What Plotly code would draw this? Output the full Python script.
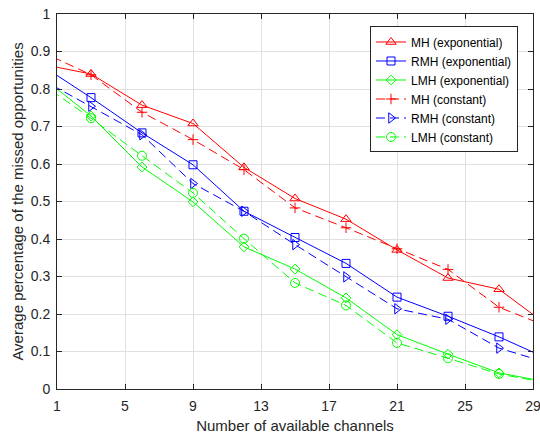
import plotly.graph_objects as go

# x positions of data (axis shows 1..29, data extends slightly beyond and is clipped)
channels = [0, 3, 6, 9, 12, 15, 18, 21, 24, 27, 30]

mh_exp = [0.867, 0.840, 0.757, 0.708, 0.591, 0.508, 0.453, 0.371, 0.296, 0.266, 0.165]
rmh_exp = [0.866, 0.777, 0.683, 0.598, 0.474, 0.404, 0.335, 0.245, 0.194, 0.139, 0.078]
lmh_exp = [0.836, 0.728, 0.592, 0.499, 0.379, 0.320, 0.243, 0.145, 0.093, 0.043, 0.017]
mh_const = [0.901, 0.838, 0.738, 0.665, 0.585, 0.483, 0.430, 0.374, 0.319, 0.218, 0.164]
rmh_const = [0.828, 0.754, 0.678, 0.548, 0.474, 0.385, 0.299, 0.214, 0.186, 0.109, 0.068]
lmh_const = [0.817, 0.722, 0.622, 0.523, 0.401, 0.283, 0.223, 0.123, 0.082, 0.040, 0.015]

series_names = ["MH (exponential)", "RMH (exponential)", "LMH (exponential)",
                "MH (constant)", "RMH (constant)", "LMH (constant)"]
series_values = [mh_exp, rmh_exp, lmh_exp, mh_const, rmh_const, lmh_const]
colors = ["#ff0000", "#0000ff", "#00ff00", "#ff0000", "#0000ff", "#00ff00"]
symbols = ["triangle-up-open", "square-open", "diamond-open",
           "cross-thin-open", "triangle-right-open", "circle-open"]
sizes = [9, 8, 7.5, 7.5, 9, 9]
dashes = ["solid", "solid", "solid", "9px,5px", "9px,5px", "9px,5px"]

x_ticks = [1, 5, 9, 13, 17, 21, 25, 29]

FONT = "Liberation Sans, Arial, Helvetica"

fig = go.Figure()
for name, vals, c, s, sz, d in zip(series_names, series_values, colors, symbols, sizes, dashes):
    fig.add_trace(go.Scatter(
        x=channels, y=vals, name=name, mode="lines+markers",
        line=dict(color=c, width=1, dash=d),
        marker=dict(symbol=s, size=sz, color=c, line=dict(color=c, width=1)),
    ))

axis_common = dict(
    showline=True, linecolor="#262626", linewidth=1, mirror="ticks",
    ticks="inside", ticklen=5, tickcolor="#262626",
    showgrid=True, gridcolor="#e0e0e0", gridwidth=1,
    zeroline=False, automargin=False, ticklabeloverflow="allow",
    tickfont=dict(family=FONT, size=14, color="#262626"),
)

fig.update_xaxes(range=[1, 29], tickvals=x_ticks, ticklabelstandoff=4,
                 title=dict(text="Number of available channels",
                            font=dict(family=FONT, size=15, color="#262626"),
                            standoff=7),
                 **axis_common)
fig.update_yaxes(range=[0, 1], dtick=0.1, tick0=0, ticklabelstandoff=3,
                 title=dict(text="Average percentage of the missed opportunities",
                            font=dict(family=FONT, size=15, color="#262626"),
                            standoff=3),
                 **axis_common)

fig.update_layout(
    width=540, height=437,
    margin=dict(l=57, r=7, t=13.5, b=48),
    paper_bgcolor="white", plot_bgcolor="white",
    font=dict(family=FONT, color="#262626"),
    legend=dict(x=0.9685, y=0.9667, xanchor="right", yanchor="top",
                bgcolor="white", bordercolor="#262626", borderwidth=1,
                font=dict(family=FONT, size=12, color="#000000"),
                tracegroupgap=0),
)

# remove the default 8px page margin so the 540x437 figure fills the window
fig.write_html("out.html", config={"displayModeBar": False},
               post_script="document.body.style.margin='0';")
